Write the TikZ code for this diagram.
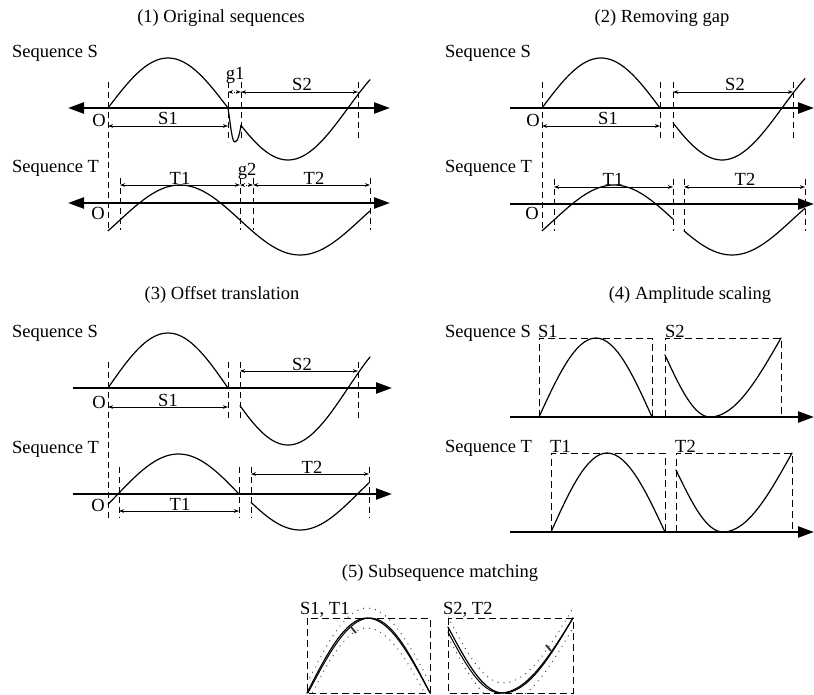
\documentclass[tikz,border=0pt]{standalone}
\usepackage{fontspec}
\setmainfont{Liberation Serif}
\usetikzlibrary{arrows.meta}
\begin{document}
\begin{tikzpicture}[x=1pt,y=-1pt,
  lbl/.style={font=\fontsize{18.5}{20}\selectfont, inner sep=0pt, anchor=base},
  lblw/.style={lbl, anchor=base west},
  axisline/.style={line width=2.4pt},
  axr/.style={axisline, -{Triangle[length=16pt,width=11pt]}},
  axlr/.style={axisline, {Triangle[length=16pt,width=11pt]}-{Triangle[length=16pt,width=11pt]}},
  curve/.style={line width=1.2pt, line join=round, line cap=round},
  vdash/.style={line width=0.9pt, dash pattern=on 6pt off 4pt},
  dimline/.style={line width=0.8pt, {Stealth[length=5pt,width=3.6pt]}-{Stealth[length=5pt,width=3.6pt]}},
  gapline/.style={dimline, dash pattern=on 1pt off 1.5pt},
  boxdash/.style={line width=0.9pt, dash pattern=on 7pt off 4pt},
  envelope/.style={line width=1.4pt, dash pattern=on 0pt off 6pt, line cap=round, black!70},
  tickmark/.style={line width=1.8pt, black!80},
]
\useasboundingbox (0,0) rectangle (814,695);

% ---------------- Panel 1 ----------------
\node[lbl] (t1) at (221,22.5) {(1) Original sequences};
\node[lblw] (p1S) at (12,58) {Sequence S};
\node[lblw] (p1T) at (12,173) {Sequence T};
\draw[axlr] (68,108) -- (390,108);
\draw[axlr] (68,203) -- (390,203);
\draw[vdash] (108,82) -- (108,228);
\foreach \xx in {228,241,358} \draw[vdash] (\xx,82) -- (\xx,142);
\foreach \xx in {120,240,253,370} \draw[vdash] (\xx,178) -- (\xx,230);
\draw[curve] plot[domain=108:228,samples=50] (\x,{108-50*sin((\x-108)*1.5)});
\draw[curve] (228,108) .. controls (231,128) and (232,142) .. (235,142) .. controls (238,142) and (240,132) .. (241,125);
\draw[curve] plot[domain=241:370,samples=50] (\x,{108+52*cos((\x-288)*1.5)});
\draw[curve] plot[domain=108:370,samples=90] (\x,{220-35*cos((\x-180)*1.5)});
\draw[dimline] (108,126) -- (228,126);
\draw[dimline] (241,92) -- (358,92);
\draw[gapline] (228,92) -- (241,92);
\draw[dimline] (120,185) -- (240,185);
\draw[gapline] (240,185) -- (253,185);
\draw[dimline] (253,185) -- (370,185);
\node[lbl] (p1O1) at (99,127) {O};
\node[lbl] (p1S1) at (168,125) {S1};
\node[lbl] (p1S2) at (302,91) {S2};
\node[lbl] (p1g1) at (235,80) {g1};
\node[lbl] (p1T1) at (180,185) {T1};
\node[lbl] (p1g2) at (247,176) {g2};
\node[lbl] (p1T2) at (314,185) {T2};
\node[lbl] (p1O2) at (98,220) {O};

% ---------------- Panel 2 ----------------
\node[lbl] (t2) at (662,22.5) {(2) Removing gap};
\node[lblw] (p2S) at (445,58) {Sequence S};
\node[lblw] (p2T) at (445,173) {Sequence T};
\draw[axr] (510,108) -- (814,108);
\draw[axr] (510,204) -- (814,204);
\draw[vdash] (542,82) -- (542,228);
\foreach \xx in {660,673,793} \draw[vdash] (\xx,82) -- (\xx,142);
\foreach \xx in {554,673,684,805} \draw[vdash] (\xx,179) -- (\xx,231);
\draw[curve] plot[domain=542:660,samples=50] (\x,{108-50*sin((\x-542)*1.5254)});
\draw[curve] plot[domain=673:805,samples=50] (\x,{108+52*cos((\x-722)*1.5)});
\draw[curve] plot[domain=542:673,samples=50] (\x,{220-35*cos((\x-614)*1.5)});
\draw[curve] plot[domain=684:805,samples=50] (\x,{220-35*cos((\x-612)*1.5)});
\draw[dimline] (542,126) -- (660,126);
\draw[dimline] (673,92) -- (793,92);
\draw[dimline] (554,187) -- (673,187);
\draw[dimline] (684,187) -- (805,187);
\node[lbl] (p2O1) at (533,127) {O};
\node[lbl] (p2S1) at (608,125) {S1};
\node[lbl] (p2S2) at (735,91) {S2};
\node[lbl] (p2T1) at (613,186) {T1};
\node[lbl] (p2T2) at (745,186) {T2};
\node[lbl] (p2O2) at (532,220) {O};

% ---------------- Panel 3 ----------------
\node[lbl] (t3) at (222,299) {(3) Offset translation};
\node[lblw] (p3S) at (12,337) {Sequence S};
\node[lblw] (p3T) at (12,453) {Sequence T};
\draw[axr] (73,388) -- (392,388);
\draw[axr] (73,494) -- (392,494);
\draw[vdash] (108,362) -- (108,520);
\foreach \xx in {228,240,358} \draw[vdash] (\xx,362) -- (\xx,420);
\foreach \xx in {119,239,251,369} \draw[vdash] (\xx,467) -- (\xx,518);
\draw[curve] plot[domain=108:228,samples=50] (\x,{388-55*sin((\x-108)*1.5)});
\draw[curve] plot[domain=240:370,samples=50] (\x,{388+57*cos((\x-288)*1.5)});
\draw[curve] plot[domain=108:239,samples=50] (\x,{494-40*sin((\x-118)*1.4876)});
\draw[curve] plot[domain=251:369,samples=50] (\x,{494+36*cos((\x-300)*1.5652)});
\draw[dimline] (108,407) -- (228,407);
\draw[dimline] (240,371) -- (358,371);
\draw[dimline] (119,511) -- (239,511);
\draw[dimline] (251,474) -- (369,474);
\node[lbl] (p3O1) at (99,408) {O};
\node[lbl] (p3S1) at (168,406) {S1};
\node[lbl] (p3S2) at (302,370) {S2};
\node[lbl] (p3T1) at (180,510) {T1};
\node[lbl] (p3T2) at (312,473) {T2};
\node[lbl] (p3O2) at (98,511) {O};

% ---------------- Panel 4 ----------------
\node[lbl] (t4) at (690,299) {(4) Amplitude scaling};
\node[lblw] (p4S) at (445,337) {Sequence S};
\node[lblw] (p4S1) at (538,337) {S1};
\node[lblw] (p4S2) at (665,337) {S2};
\node[lblw] (p4T) at (445,452) {Sequence T};
\node[lblw] (p4T1) at (550,452) {T1};
\node[lblw] (p4T2) at (675,452) {T2};
\draw[axr] (510,417) -- (814,417);
\draw[axr] (510,532) -- (814,532);
\draw[boxdash] (539,417) -- (539,338) -- (652,338) -- (652,417);
\draw[boxdash] (665,417) -- (665,338) -- (781,338) -- (781,417);
\draw[boxdash] (551,532) -- (551,453) -- (665,453) -- (665,532);
\draw[boxdash] (676,532) -- (676,453) -- (792,453) -- (792,532);
\draw[curve] (539,417) sin (596,338) cos (652,417);
\draw[curve] (665,355) sin (710,417) cos (781,338);
\draw[curve] (551,532) sin (607,453) cos (665,532);
\draw[curve] (676,470) sin (723,532) cos (792,453);

% ---------------- Panel 5 ----------------
\node[lbl] (t5) at (440,577) {(5) Subsequence matching};
\node[lblw] (p5a) at (300,614) {S1, T1};
\node[lblw] (p5b) at (443,614) {S2, T2};
\draw[boxdash] (307,618) rectangle (430,693);
\draw[boxdash] (448,618) rectangle (573,693);
\begin{scope}
  \clip (307,600) rectangle (430,693);
  \draw[envelope] (307,683) sin (367,608) cos (430,683);
  \draw[envelope] (307,703) sin (367,628) cos (430,703);
\end{scope}
\draw[curve] (307,693) sin (367,618) cos (430,693);
\draw[curve,line width=1pt] (308,693) sin (370,618) cos (430,693);
\draw[tickmark] (351,627) -- (356,633);
\begin{scope}
  \clip (448,603) rectangle (573,693);
  \draw[envelope] (448,617) sin (503,683) cos (573,608);
  \draw[envelope] (448,637) sin (503,703) cos (573,628);
\end{scope}
\draw[curve] (448,627) sin (503,693) cos (573,618);
\draw[curve,line width=1pt] (448,632) sin (500,693) cos (573,618);
\draw[tickmark] (546,645) -- (551,651);
\end{tikzpicture}
\end{document}
